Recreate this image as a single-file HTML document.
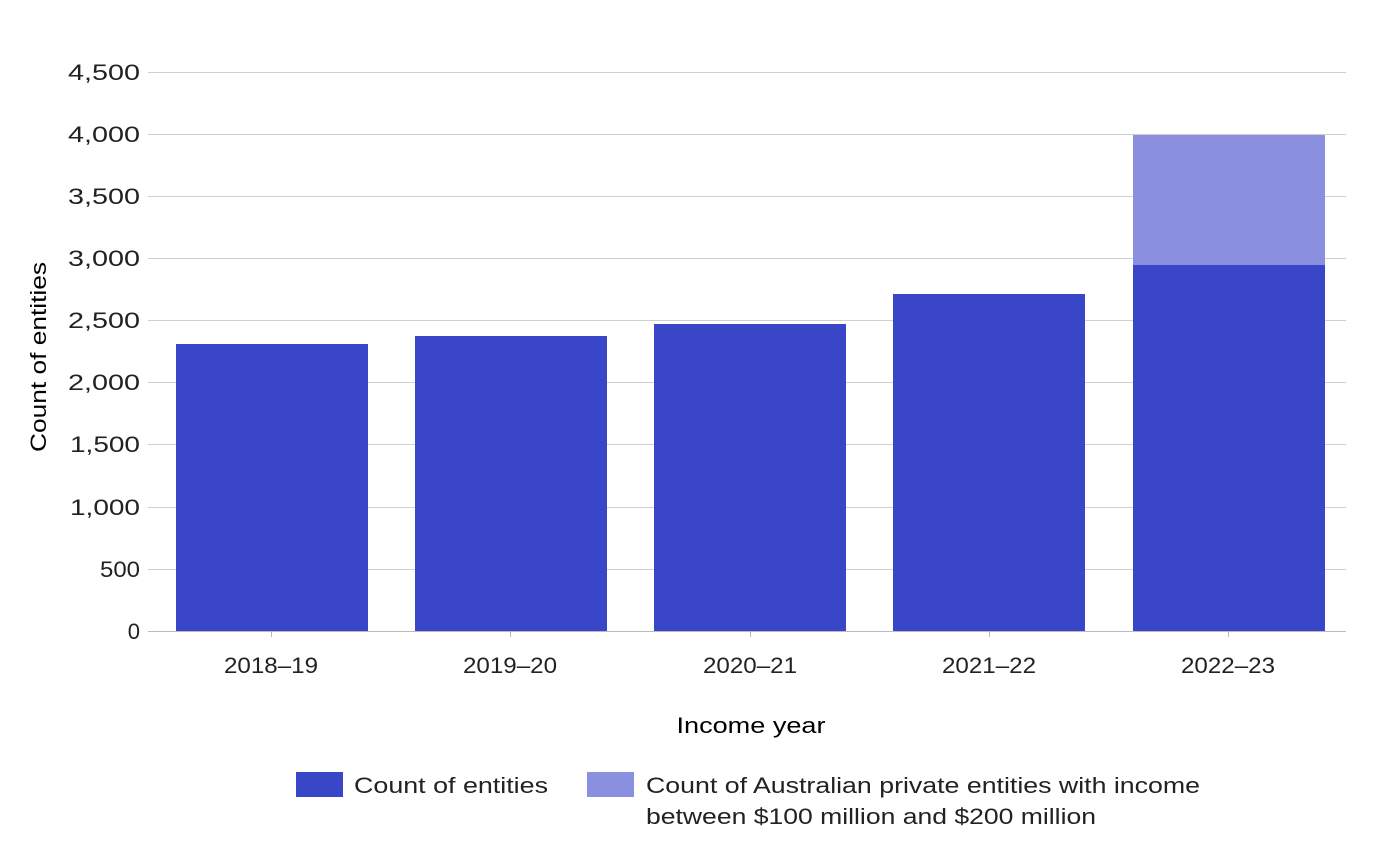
<!DOCTYPE html>
<html><head><meta charset="utf-8"><style>
html,body{margin:0;padding:0;background:#fff;}
svg{display:block;font-family:"Liberation Sans",sans-serif;}
</style></head><body>
<svg width="1378" height="868" viewBox="0 0 1378 868" xmlns="http://www.w3.org/2000/svg">
<g stroke="#cfcfcf" stroke-width="1">
<line x1="148" x2="1346" y1="72.5" y2="72.5"/>
<line x1="148" x2="1346" y1="134.5" y2="134.5"/>
<line x1="148" x2="1346" y1="196.5" y2="196.5"/>
<line x1="148" x2="1346" y1="258.5" y2="258.5"/>
<line x1="148" x2="1346" y1="320.5" y2="320.5"/>
<line x1="148" x2="1346" y1="382.5" y2="382.5"/>
<line x1="148" x2="1346" y1="444.5" y2="444.5"/>
<line x1="148" x2="1346" y1="507.5" y2="507.5"/>
<line x1="148" x2="1346" y1="569.5" y2="569.5"/>
</g>
<g fill="#3A46C8">
<rect x="176" y="344" width="192" height="287"/>
<rect x="415" y="336" width="192" height="295"/>
<rect x="654" y="324" width="192" height="307"/>
<rect x="893" y="294" width="192" height="337"/>
<rect x="1133" y="265" width="192" height="366"/>
</g>
<rect x="1133" y="135" width="192" height="130" fill="#8A8FDF"/>
<g stroke="#bbbbbb" stroke-width="1">
<line x1="148" x2="1346" y1="631.5" y2="631.5"/>
<line x1="271.5" x2="271.5" y1="631" y2="637"/>
<line x1="510.5" x2="510.5" y1="631" y2="637"/>
<line x1="750.5" x2="750.5" y1="631" y2="637"/>
<line x1="989.5" x2="989.5" y1="631" y2="637"/>
<line x1="1228.5" x2="1228.5" y1="631" y2="637"/>
</g>
<g font-size="22" fill="#222" text-anchor="end" lengthAdjust="spacingAndGlyphs">
<text x="140" y="80" textLength="72" lengthAdjust="spacingAndGlyphs">4,500</text>
<text x="140" y="142" textLength="72" lengthAdjust="spacingAndGlyphs">4,000</text>
<text x="140" y="204" textLength="72" lengthAdjust="spacingAndGlyphs">3,500</text>
<text x="140" y="266" textLength="72" lengthAdjust="spacingAndGlyphs">3,000</text>
<text x="140" y="328" textLength="72" lengthAdjust="spacingAndGlyphs">2,500</text>
<text x="140" y="390" textLength="72" lengthAdjust="spacingAndGlyphs">2,000</text>
<text x="140" y="452" textLength="70" lengthAdjust="spacingAndGlyphs">1,500</text>
<text x="140" y="515" textLength="70" lengthAdjust="spacingAndGlyphs">1,000</text>
<text x="140" y="577" textLength="40" lengthAdjust="spacingAndGlyphs">500</text>
<text x="140" y="639">0</text>
</g>
<g font-size="22" fill="#222" text-anchor="middle">
<text x="271" y="673" textLength="94" lengthAdjust="spacingAndGlyphs">2018–19</text>
<text x="510" y="673" textLength="94" lengthAdjust="spacingAndGlyphs">2019–20</text>
<text x="750" y="673" textLength="94" lengthAdjust="spacingAndGlyphs">2020–21</text>
<text x="989" y="673" textLength="94" lengthAdjust="spacingAndGlyphs">2021–22</text>
<text x="1228" y="673" textLength="94" lengthAdjust="spacingAndGlyphs">2022–23</text>
<text x="751" y="733" fill="#000" textLength="149" lengthAdjust="spacingAndGlyphs">Income year</text>
</g>
<text transform="translate(46,357) rotate(-90)" font-size="22" text-anchor="middle" fill="#000" textLength="190" lengthAdjust="spacingAndGlyphs">Count of entities</text>
<rect x="296" y="772" width="47" height="25" fill="#3A46C8"/>
<text x="354" y="793" font-size="22" fill="#222" textLength="194" lengthAdjust="spacingAndGlyphs">Count of entities</text>
<rect x="587" y="772" width="47" height="25" fill="#8A8FDF"/>
<text x="646" y="793" font-size="22" fill="#222" textLength="554" lengthAdjust="spacingAndGlyphs">Count of Australian private entities with income</text>
<text x="646" y="824" font-size="22" fill="#222" textLength="450" lengthAdjust="spacingAndGlyphs">between $100 million and $200 million</text>
</svg>
</body></html>
